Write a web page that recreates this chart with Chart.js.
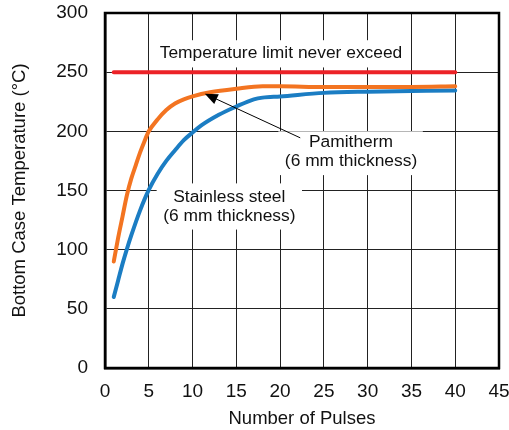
<!DOCTYPE html>
<html>
<head>
<meta charset="utf-8">
<script src="https://cdn.jsdelivr.net/npm/chart.js@4"></script>
<style>
  html, body { margin: 0; padding: 0; background: #fff; }
  #wrap { width: 509px; height: 430px; }
</style>
</head>
<body>
<div id="wrap"><canvas id="pulseChart"></canvas></div>
<script>
// values
const limitPulses = [1, 40];
const limitTemps = [250, 250];

const pamithermPulses = [1, 1.5, 2, 2.5, 3, 3.5, 4, 4.5, 5, 6, 7, 8, 9, 10, 12, 15, 18, 20, 25, 30, 35, 40];
const pamithermTemps = [90, 110, 128, 146, 160, 171, 182, 191.5, 200, 210, 218, 223.5, 227, 229.5, 233, 236, 238, 238, 237.5, 237.5, 237.5, 238];

const steelPulses = [1, 1.5, 2, 2.5, 3, 4, 5, 6, 7, 8, 9, 10, 11, 13, 15, 17, 18, 20, 25, 30, 40];
const steelTemps = [60, 74, 88, 100.5, 112, 133, 150.5, 164, 175, 184, 192.5, 199, 205, 214, 221, 227, 228.5, 229.5, 232.5, 233.5, 234.5];

const xTicks = [0, 5, 10, 15, 20, 25, 30, 35, 40, 45];
const yTicks = [0, 50, 100, 150, 200, 250, 300];

const FONT = 'Liberation Sans, Arial, sans-serif';

// text callouts, in data units
const notes = [
  { lines: ['Temperature limit never exceed'], x: 20.1, y: [266], box: [5.3, 34.6, 277, 254] },
  { lines: ['Pamitherm', '(6 mm thickness)'], x: 28.1, y: [191, 174.5], box: [19.8, 36.3, 200, 163] },
  { lines: ['Stainless steel', '(6 mm thickness)'], x: 14.2, y: [144, 128], box: [5.9, 22.5, 156, 117] }
];
const arrow = { from: [22.3, 194.5], to: [11.4, 231.8] };

const toXY = (pts, vals) => pts.map((p, i) => ({ x: p, y: vals[i] }));

const callouts = {
  id: 'callouts',
  beforeDatasetsDraw(chart) {
    const { ctx, scales: { x, y } } = chart;
    ctx.save();
    ctx.fillStyle = '#fff';
    notes.forEach(n => {
      const [x0, x1, y0, y1] = n.box;
      const l = x.getPixelForValue(x0), r = x.getPixelForValue(x1);
      const t = y.getPixelForValue(y0), b = y.getPixelForValue(y1);
      ctx.fillRect(l, t, r - l, b - t);
    });
    ctx.restore();
  },
  afterDatasetsDraw(chart) {
    const { ctx, chartArea: a, scales: { x, y } } = chart;
    ctx.save();
    ctx.fillStyle = '#111';
    ctx.font = '17.4px ' + FONT;
    ctx.textAlign = 'center';
    ctx.textBaseline = 'middle';
    notes.forEach(n => {
      n.lines.forEach((s, i) => ctx.fillText(s, x.getPixelForValue(n.x), y.getPixelForValue(n.y[i])));
    });

    // arrow pointing at the Pamitherm curve
    const fx = x.getPixelForValue(arrow.from[0]), fy = y.getPixelForValue(arrow.from[1]);
    const tx = x.getPixelForValue(arrow.to[0]), ty = y.getPixelForValue(arrow.to[1]);
    const ang = Math.atan2(ty - fy, tx - fx);
    ctx.strokeStyle = '#000';
    ctx.lineWidth = 1;
    ctx.beginPath();
    ctx.moveTo(fx, fy);
    ctx.lineTo(tx - Math.cos(ang) * 10, ty - Math.sin(ang) * 10);
    ctx.stroke();
    ctx.fillStyle = '#000';
    ctx.beginPath();
    ctx.moveTo(tx, ty);
    ctx.lineTo(tx - Math.cos(ang - 0.4) * 14, ty - Math.sin(ang - 0.4) * 14);
    ctx.lineTo(tx - Math.cos(ang + 0.4) * 14, ty - Math.sin(ang + 0.4) * 14);
    ctx.closePath();
    ctx.fill();

    // heavy frame round the plot
    ctx.lineWidth = 2.5;
    ctx.strokeRect(a.left, a.top, a.right - a.left, a.bottom - a.top);
    ctx.restore();
  }
};

new Chart(document.getElementById('pulseChart').getContext('2d'), {
  type: 'line',
  data: {
    datasets: [
      { label: 'Temperature limit', data: toXY(limitPulses, limitTemps), borderColor: '#ec2227', borderWidth: 4 },
      { label: 'Pamitherm', data: toXY(pamithermPulses, pamithermTemps), borderColor: '#f37421', borderWidth: 4, cubicInterpolationMode: 'monotone' },
      { label: 'Stainless steel', data: toXY(steelPulses, steelTemps), borderColor: '#1b7dc3', borderWidth: 4, cubicInterpolationMode: 'monotone' }
    ]
  },
  options: {
    responsive: true,
    maintainAspectRatio: false,
    animation: false,
    devicePixelRatio: 1,
    layout: { padding: { top: 13, right: 10, left: 0, bottom: 0 } },
    elements: { point: { radius: 0 }, line: { borderCapStyle: 'round' } },
    plugins: { legend: { display: false }, tooltip: { enabled: false } },
    scales: {
      x: {
        type: 'linear', min: 0, max: 45,
        afterBuildTicks: s => { s.ticks = xTicks.map(v => ({ value: v })); },
        afterFit: s => { s.height = 62; s.paddingLeft = 0; s.paddingRight = 0; },
        grid: { color: '#222', lineWidth: 1, drawTicks: false },
        border: { color: '#000', width: 2.5 },
        ticks: { color: '#111', padding: 12, font: { family: FONT, size: 19 } },
        title: { display: true, text: 'Number of Pulses', color: '#111', font: { family: FONT, size: 18.5 }, padding: { top: 0, bottom: 0 } }
      },
      y: {
        min: 0, max: 300,
        afterBuildTicks: s => { s.ticks = yTicks.map(v => ({ value: v })); },
        afterFit: s => { s.width = 105; s.paddingTop = 0; s.paddingBottom = 0; },
        grid: { color: '#222', lineWidth: 1, drawTicks: false },
        border: { color: '#000', width: 2.5 },
        ticks: { color: '#111', padding: 17, font: { family: FONT, size: 19 } },
        title: { display: true, text: 'Bottom Case Temperature (°C)', color: '#111', font: { family: FONT, size: 18.5 }, padding: { top: 9, bottom: 0 } }
      }
    }
  },
  plugins: [callouts]
});
</script>
</body>
</html>
